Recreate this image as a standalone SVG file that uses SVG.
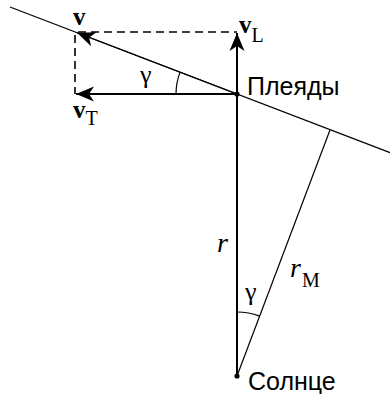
<svg xmlns="http://www.w3.org/2000/svg" width="392" height="394" viewBox="0 0 392 394">
<defs>
<style>
.thin{stroke:#000;stroke-width:1.2;fill:none}
.thick{stroke:#000;stroke-width:2;fill:none}
.dash{stroke:#000;stroke-width:1.6;fill:none;stroke-dasharray:8 5}
.sans{font-family:"Liberation Sans",Arial,sans-serif;font-size:25px;fill:#000}
.serif{font-family:"Liberation Serif","Times New Roman",serif;fill:#000}
.vec{font-weight:bold;font-size:25px}
.sub{font-size:20px}
.it{font-style:italic;font-size:28px}
.gam{font-size:26px}
</style>
<marker id="ah" markerUnits="userSpaceOnUse" markerWidth="20" markerHeight="18" viewBox="-18 -9 20 18" refX="0" refY="0" orient="auto">
<path d="M0,0 L-18,-7.5 L-13,0 L-18,7.5 Z" fill="#000"/>
</marker>
</defs>
<rect width="392" height="394" fill="#fff"/>
<g id="connectors">
<line class="thin" x1="10" y1="7" x2="390" y2="152.6"/>
<line class="thin" x1="237" y1="94" x2="77" y2="32.8" marker-end="url(#ah)"/>
<line class="dash" x1="78" y1="32" x2="237" y2="32"/>
<line class="dash" x1="75" y1="35" x2="75" y2="94"/>
<line class="thick" x1="237" y1="376" x2="237" y2="33" marker-end="url(#ah)"/>
<line class="thick" x1="237" y1="94" x2="76" y2="94" marker-end="url(#ah)"/>
<line class="thin" x1="237" y1="376" x2="330" y2="130"/>
<path class="thin" d="M176,94 A61,61 0 0 1 180.1,72.1"/>
<path class="thin" d="M237,312 A64,64 0 0 1 259.6,316.1"/>
</g>
<g id="pleiades">
<circle cx="237" cy="94" r="2.6" fill="#000"/>
<text class="sans" x="247" y="95">Плеяды</text>
</g>
<g id="sun">
<circle cx="237" cy="376" r="2.6" fill="#000"/>
<text class="sans" x="248" y="390">Солнце</text>
</g>
<g id="labels">
<text class="serif vec" x="73" y="25">v</text>
<text class="serif" x="73" y="118"><tspan class="vec">v</tspan><tspan class="sub" dy="7">T</tspan></text>
<text class="serif" x="239" y="33"><tspan class="vec">v</tspan><tspan class="sub" dy="9">L</tspan></text>
<text class="serif gam" x="140" y="83">γ</text>
<text class="serif gam" x="245" y="300">γ</text>
<text class="serif it" x="217" y="252">r</text>
<text class="serif" x="290" y="277"><tspan class="it">r</tspan><tspan class="sub" dx="1" dy="10">M</tspan></text>
</g>
</svg>
